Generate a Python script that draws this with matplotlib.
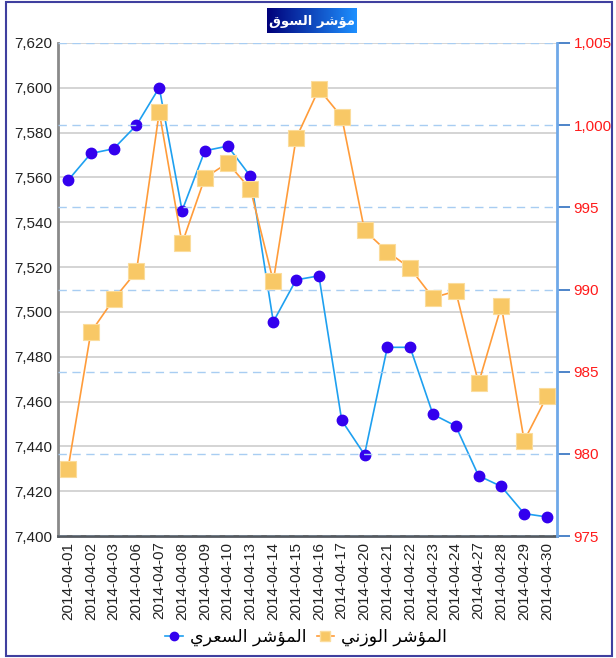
import numpy as np
import matplotlib
matplotlib.use("Agg")
import matplotlib.pyplot as plt
from matplotlib.lines import Line2D

plt.rcParams['font.family'] = ['Liberation Sans', 'DejaVu Sans']

# ---------------- data ----------------
dates = ["2014-04-01", "2014-04-02", "2014-04-03", "2014-04-06", "2014-04-07",
         "2014-04-08", "2014-04-09", "2014-04-10", "2014-04-13", "2014-04-14",
         "2014-04-15", "2014-04-16", "2014-04-17", "2014-04-20", "2014-04-21",
         "2014-04-22", "2014-04-23", "2014-04-24", "2014-04-27", "2014-04-28",
         "2014-04-29", "2014-04-30"]
price_index = [7558.7, 7570.7, 7572.8, 7583.3, 7600.1, 7545.2, 7571.9, 7574.0,
               7560.5, 7495.6, 7514.3, 7516.1, 7451.6, 7436.3, 7484.2, 7484.2,
               7454.3, 7449.1, 7426.9, 7422.1, 7410.0, 7408.5]
weighted_index = [979.1, 987.4, 989.4, 991.1, 1000.8, 992.8, 996.8, 997.7,
                  996.1, 990.5, 999.2, 1002.2, 1000.5, 993.6, 992.3, 991.3,
                  989.5, 989.9, 984.3, 989.0, 980.8, 983.5]
left_ticks = [7400, 7420, 7440, 7460, 7480, 7500, 7520, 7540, 7560, 7580, 7600, 7620]
right_ticks = [975, 980, 985, 990, 995, 1000, 1005]
title_text = "مؤشر السوق"
label_price = "المؤشر السعري"
label_weighted = "المؤشر الوزني"

# ------------- minimal Arabic shaping (presentation forms + RTL) -------------
FORMS = {
    '\u0627': ('\uFE8D', '\uFE8E', None, None),
    '\u0644': ('\uFEDD', '\uFEDE', '\uFEDF', '\uFEE0'),
    '\u0645': ('\uFEE1', '\uFEE2', '\uFEE3', '\uFEE4'),
    '\u0624': ('\uFE85', '\uFE86', None, None),
    '\u0634': ('\uFEB5', '\uFEB6', '\uFEB7', '\uFEB8'),
    '\u0631': ('\uFEAD', '\uFEAE', None, None),
    '\u0633': ('\uFEB1', '\uFEB2', '\uFEB3', '\uFEB4'),
    '\u0648': ('\uFEED', '\uFEEE', None, None),
    '\u0642': ('\uFED5', '\uFED6', '\uFED7', '\uFED8'),
    '\u0639': ('\uFEC9', '\uFECA', '\uFECB', '\uFECC'),
    '\u064A': ('\uFEF1', '\uFEF2', '\uFEF3', '\uFEF4'),
    '\u0632': ('\uFEAF', '\uFEB0', None, None),
    '\u0646': ('\uFEE5', '\uFEE6', '\uFEE7', '\uFEE8'),
}


def shape(text):
    out = []
    n = len(text)
    for i, ch in enumerate(text):
        if ch not in FORMS:
            out.append(ch)
            continue
        iso, fin, ini, med = FORMS[ch]
        prev = text[i - 1] if i > 0 else ''
        nxt = text[i + 1] if i < n - 1 else ''
        jp = prev in FORMS and FORMS[prev][2] is not None
        jn = ini is not None and nxt in FORMS
        if jp and jn:
            out.append(med)
        elif jp:
            out.append(fin)
        elif jn:
            out.append(ini)
        else:
            out.append(iso)
    return ''.join(reversed(out))


# ---------------- figure ----------------
W, H = 616, 658
fig = plt.figure(figsize=(W / 100, H / 100), dpi=100)
fig.patch.set_facecolor('white')

# figure border
fig.add_artist(plt.Rectangle((6 / W, 2 / H), (612 - 6) / W, (656 - 2) / H,
                             transform=fig.transFigure, fill=False,
                             edgecolor='#3f3f9f', linewidth=1.5))

ax1 = fig.add_axes([58 / W, 1 - 536 / H, (557 - 58) / W, (536 - 43) / H])
ax2 = ax1.twinx()

x = np.arange(len(dates))

# left axis: price index
ax1.plot(x, price_index, color='#1ea0f0', lw=1.2, marker='o', ms=7.5,
         mfc='#3300ee', mec='#3300ee', zorder=3)
ax1.set_ylim(7400, 7620)
ax1.set_yticks(left_ticks)
ax1.set_yticklabels([f"{v:,}" for v in left_ticks], fontsize=11, color='#222222')
ax1.set_xlim(-0.44, len(dates) - 1 + 0.44)
ax1.set_xticks(x)
ax1.set_xticklabels(dates, rotation=90, fontsize=11, color='#222222')
ax1.tick_params(axis='both', length=0, pad=4)
ax1.yaxis.grid(True, color='#d4d4d4', lw=1.4)
ax1.set_axisbelow(True)
for s in ['top', 'right']:
    ax1.spines[s].set_visible(False)
ax1.spines['left'].set_color('#8a8a8a')
ax1.spines['left'].set_linewidth(2)
ax1.spines['bottom'].set_color('#555a60')
ax1.spines['bottom'].set_linewidth(2)

# right axis: weighted index
ax2.plot(x, weighted_index, color='#ff9c3a', lw=1.2, marker='s', ms=11,
         mfc='#f8c866', mec='#fbdc9c', mew=0.8, zorder=3)
ax2.set_ylim(975, 1005)
ax2.set_yticks(right_ticks)
ax2.set_yticklabels([f"{v:,}" for v in right_ticks], fontsize=11, color='#ff1a1a')
ax2.tick_params(axis='y', length=9, width=1.2, color='#2f6fc0', pad=3)
ax2.yaxis.grid(True, color='#a8cdf2', lw=1, ls=(0, (6, 4)))
ax2.set_axisbelow(True)
for s in ['top', 'left', 'bottom']:
    ax2.spines[s].set_visible(False)
ax2.spines['right'].set_color('#6fa8e8')
ax2.spines['right'].set_linewidth(2)
ax2.patch.set_visible(False)

# title box with gradient
tax = fig.add_axes([267 / W, 1 - 33 / H, 90 / W, 25 / H])
grad = np.linspace(0, 1, 256).reshape(1, -1)
cmap = matplotlib.colors.LinearSegmentedColormap.from_list('g', ['#00007a', '#1e90ff'])
tax.imshow(grad, aspect='auto', cmap=cmap, extent=(0, 1, 0, 1))
tax.set_xlim(0, 1)
tax.set_ylim(0, 1)
tax.axis('off')
tax.text(0.5, 0.47, shape(title_text), color='white', fontsize=9.5,
         fontweight='bold', ha='center', va='center', family='DejaVu Sans')

# legend
h1 = Line2D([], [], color='#1ea0f0', lw=1.2, marker='o', ms=6,
            mfc='#3300ee', mec='#3300ee')
h2 = Line2D([], [], color='#ff9c3a', lw=1.2, marker='s', ms=7,
            mfc='#f8c866', mec='#fbdc9c')
fig.legend([h1, h2], [shape(label_price), shape(label_weighted)],
           loc='center', bbox_to_anchor=(306 / W, 1 - 637 / H), ncol=2,
           frameon=False, handlelength=1.0, handletextpad=0.4,
           columnspacing=0.6, prop={'family': 'DejaVu Sans', 'size': 12.5})

fig.savefig('out.png', dpi=100)
